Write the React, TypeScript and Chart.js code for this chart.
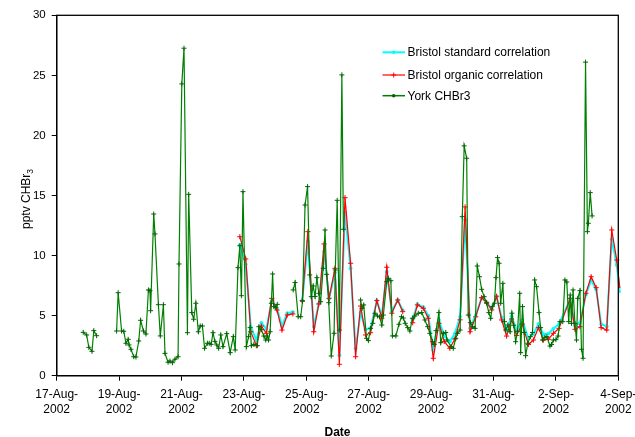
import React, { useEffect, useRef } from "react";
import { Chart, registerables } from "chart.js";

Chart.register(...registerables);

const FONT = '"Liberation Sans", Arial, Helvetica, sans-serif';

const DATE_TICKS = [
  "17-Aug-2002", "19-Aug-2002", "21-Aug-2002", "23-Aug-2002", "25-Aug-2002",
  "27-Aug-2002", "29-Aug-2002", "31-Aug-2002", "2-Sep-2002", "4-Sep-2002",
];
const X_AXIS_TITLE = "Date";
const Y_AXIS_TITLE = "pptv CHBr";
const Y_AXIS_SUB = "3";
const SERIES_NAMES = ["Bristol standard correlation", "Bristol organic correlation", "York CHBr3"];

// days after 17-Aug-2002 00:00
const YORK_DAYS = [
  0.85, 0.96, 1.03, 1.13, 1.19, 1.28, 1.60, 1.92, 1.97, 2.08,
  2.15, 2.22, 2.29, 2.32, 2.38, 2.47, 2.54, 2.63, 2.69, 2.78,
  2.86, 2.94, 2.99, 3.01, 3.11, 3.15, 3.26, 3.32, 3.42, 3.47,
  3.57, 3.63, 3.71, 3.79, 3.89, 3.92, 4.01, 4.08, 4.19, 4.23,
  4.33, 4.39, 4.46, 4.54, 4.60, 4.67, 4.74, 4.83, 4.89, 4.95,
  5.01, 5.07, 5.13, 5.19, 5.26, 5.33, 5.45, 5.56, 5.66, 5.72,
  5.81, 5.87, 5.92, 5.97, 6.08, 6.15, 6.20, 6.24, 6.32, 6.43,
  6.48, 6.56, 6.64, 6.70, 6.75, 6.79, 6.84, 6.88, 6.92, 6.96,
  7.02, 7.07, 7.30, 7.58, 7.64, 7.74, 7.82, 7.88, 7.96, 8.04,
  8.11, 8.16, 8.22, 8.28, 8.34, 8.40, 8.46, 8.54, 8.60, 8.65,
  8.72, 8.80, 8.89, 8.93, 8.99, 9.06, 9.14, 9.19, 9.45, 9.74,
  9.79, 9.84, 9.93, 9.99, 10.06, 10.13, 10.20, 10.28, 10.35, 10.42,
  10.47, 10.58, 10.63, 10.71, 10.76, 10.87, 10.97, 11.05, 11.11, 11.17,
  11.25, 11.32, 11.40, 11.48, 11.59, 11.70, 11.80, 11.89, 11.96, 12.05,
  12.10, 12.16, 12.25, 12.31, 12.39, 12.47, 12.51, 12.64, 12.71, 12.79,
  12.85, 12.93, 13.00, 13.06, 13.14, 13.19, 13.26, 13.33, 13.41, 13.48,
  13.55, 13.62, 13.70, 13.78, 13.85, 13.91, 13.96, 14.03, 14.08, 14.13,
  14.18, 14.23, 14.30, 14.35, 14.39, 14.46, 14.53, 14.59, 14.65, 14.71,
  14.77, 14.84, 14.87, 14.93, 14.98, 15.03, 15.10, 15.18, 15.25, 15.32,
  15.38, 15.46, 15.51, 15.57, 15.65, 15.71, 15.81, 15.86, 15.92, 16.00,
  16.07, 16.13, 16.22, 16.29, 16.35, 16.41, 16.46, 16.50, 16.55, 16.61,
  16.66, 16.70, 16.77, 16.82, 16.87, 16.95, 17.01, 17.04, 17.10, 17.16,
];

const YORK_CHBR3 = [
  3.61, 3.39, 2.36, 2.03, 3.75, 3.33, null, 3.72, 6.91, 3.72,
  3.70, 2.70, 3.03, 2.56, 2.20, 1.58, 1.56, 2.89, 4.61, 3.72,
  3.47, 7.14, 7.08, 5.41, 13.46, 11.80, 5.91, 3.31, 5.91, 1.86,
  1.12, 1.22, 1.08, 1.37, 1.58, 9.30, 24.29, 27.26, 3.58, 15.10,
  5.25, 4.70, 6.03, 3.66, 4.14, 4.14, 2.28, 2.70, 2.70, 2.61,
  3.58, 2.86, 2.56, 2.28, 3.39, 2.42, 3.50, 1.92, 3.25, 2.14,
  8.99, 10.82, 6.66, 15.32, 2.42, 3.25, 4.00, 2.50, 2.61, 2.50,
  4.08, 3.83, 3.30, 2.97, 3.30, 2.97, 3.66, 6.03, 8.47, 5.75,
  5.66, 5.94, null, 7.14, 7.75, 4.91, 4.91, 6.20, 14.21, 15.74,
  8.39, 6.58, 7.47, 6.60, 8.16, 6.86, 6.16, 8.94, 12.13, 8.44,
  6.08, 1.64, 3.53, 8.80, 14.60, 3.80, 25.04, 12.19, null, 6.30,
  5.61, 5.89, 3.11, 2.92, 3.94, 4.36, 5.20, 4.97, 4.90, 4.22,
  5.05, 7.83, 8.11, 7.91, 3.31, 3.31, 4.28, 4.91, 4.80, 4.36,
  4.00, 3.72, 4.78, 4.97, 5.20, 5.25, 4.64, 4.08, 3.53, 2.83,
  2.60, 3.75, 5.25, 2.75, 3.53, 3.60, 2.97, 2.42, 2.28, 3.11,
  3.53, 3.80, 13.24, 19.13, 18.10, 5.05, 4.41, 4.08, 3.94, 9.13,
  8.24, 7.19, 6.58, 6.03, 5.25, 4.78, 5.75, 6.03, 8.16, 9.83,
  9.36, 6.03, 7.69, 4.50, 3.80, 4.22, 3.66, 5.20, 4.20, 2.83,
  3.70, 6.86, 1.92, 5.75, 3.60, 1.67, 2.70, 3.25, 3.60, 7.97,
  7.41, 5.25, 4.00, 2.97, 3.20, 3.25, 2.47, 2.60, 2.97, 3.00,
  3.30, 4.50, 4.50, 7.97, 7.80, 4.50, 6.72, 4.36, 7.14, 4.36,
  2.97, 6.44, 7.08, 2.20, 1.45, 26.10, 11.99, 12.69, 15.24, 13.30,
];

const BRISTOL_DAYS = [
  5.87, 6.06, 6.22, 6.40, 6.56, 6.72, 6.89, 7.06, 7.22, 7.39,
  7.57, 7.72, 7.87, 8.05, 8.24, 8.40, 8.57, 8.73, 8.92, 9.06,
  9.24, 9.42, 9.58, 9.74, 9.90, 10.06, 10.26, 10.42, 10.58, 10.74,
  10.93, 11.09, 11.25, 11.41, 11.56, 11.75, 11.91, 12.07, 12.25, 12.42,
  12.60, 12.76, 12.93, 13.09, 13.25, 13.43, 13.62, 13.78, 13.94, 14.10,
  14.26, 14.42, 14.58, 14.74, 14.92, 15.12, 15.28, 15.44, 15.60, 15.76,
  15.92, 16.10, 16.46, 16.61, 16.77, 16.96, 17.13, 17.29, 17.45, 17.63,
  17.79, 17.95, 18.05,
];

const BRISTOL_ORGANIC = [
  11.57, 9.72, 3.66, 2.50, 4.14, 3.53, 6.44, 5.47, 3.80, 5.05,
  5.14, null, 6.25, 11.99, 3.66, 5.97, 10.97, 6.44, 8.94, 0.95,
  14.82, 9.36, 1.58, 5.80, 3.39, 3.58, 6.25, 4.78, 9.03, 5.20,
  6.30, 5.33, null, 4.41, 5.89, 5.61, 4.78, 1.45, 4.36, 2.85,
  2.28, 3.05, 4.65, 14.05, 3.66, 4.90, 6.50, 6.10, 5.47, 6.62,
  4.64, 3.30, 4.72, 3.35, 4.30, 2.60, 2.97, 4.00, 2.97, 3.03,
  3.53, 3.94, 6.44, 3.86, 4.08, 6.86, 8.24, 7.33, 4.00, 3.80,
  12.13, 9.63, 7.30,
];

const BRISTOL_STANDARD = [
  10.88, 9.27, 4.08, 2.97, 4.40, 3.90, 6.20, 5.60, 4.15, 5.20,
  5.30, null, 6.25, 11.16, 4.08, 6.00, 10.33, 6.40, 8.60, 1.70,
  13.60, 8.94, 2.28, 5.25, 3.86, 3.95, 6.25, 5.00, 8.66, 5.35,
  6.30, 5.45, null, 4.70, 5.95, 5.70, 5.00, 2.14, 4.65, 3.30,
  2.85, 3.50, 4.90, 12.96, 3.95, 5.05, 6.45, 6.10, 5.60, 6.55,
  4.85, 3.75, 4.95, 3.80, 4.60, 3.10, 3.45, 4.30, 3.45, 3.50,
  3.90, 4.30, 6.40, 4.15, 4.40, 6.75, 7.95, 7.20, 4.30, 4.10,
  11.36, 9.22, 6.90,
];

const toPoints = (xs: number[], ys: (number | null)[]) =>
  xs.map((x, i) => ({ x, y: ys[i] }));

const hideBeyondEnd = (base: number) => (ctx: any) => {
  const raw = ctx.raw as { x: number } | undefined;
  return raw && raw.x > 18 ? 0 : base;
};

const overlayPlugin = {
  id: "overlay",
  afterDraw(chart: any) {
    const { ctx, chartArea: a } = chart;
    ctx.save();
    // plot-area frame
    ctx.strokeStyle = "#000";
    ctx.lineWidth = 1.3;
    ctx.strokeRect(a.left, a.top, a.right - a.left, a.bottom - a.top);

    // legend inside the plot area
    const ds = chart.data.datasets;
    const rows = [
      { y: 52.3, color: ds[0].borderColor, lw: 2, marker: "dot", mcolor: "#00FFFF", label: ds[0].label },
      { y: 75, color: ds[1].borderColor, lw: 1.2, marker: "cross", mcolor: "#FF0000", label: ds[1].label },
      { y: 95.7, color: ds[2].borderColor, lw: 1.5, marker: "dot", mcolor: "#006400", label: ds[2].label },
    ];
    ctx.font = `12px ${FONT}`;
    ctx.textBaseline = "middle";
    ctx.textAlign = "left";
    for (const r of rows) {
      ctx.strokeStyle = r.color;
      ctx.lineWidth = r.lw;
      ctx.beginPath();
      ctx.moveTo(382.5, r.y);
      ctx.lineTo(405, r.y);
      ctx.stroke();
      if (r.marker === "dot") {
        ctx.fillStyle = r.mcolor;
        ctx.beginPath();
        ctx.arc(393.7, r.y, 1.8, 0, Math.PI * 2);
        ctx.fill();
      } else {
        ctx.strokeStyle = r.mcolor;
        ctx.lineWidth = 1;
        ctx.beginPath();
        ctx.moveTo(391.2, r.y);
        ctx.lineTo(396.2, r.y);
        ctx.moveTo(393.7, r.y - 2.5);
        ctx.lineTo(393.7, r.y + 2.5);
        ctx.stroke();
      }
      ctx.fillStyle = "#000";
      ctx.fillText(r.label, 407.5, r.y + 0.5);
    }

    // y axis title with subscript
    ctx.translate(30, 199);
    ctx.rotate(-Math.PI / 2);
    ctx.textBaseline = "alphabetic";
    ctx.font = `12px ${FONT}`;
    const w1 = ctx.measureText(Y_AXIS_TITLE).width;
    ctx.font = `8.5px ${FONT}`;
    const w2 = ctx.measureText(Y_AXIS_SUB).width;
    const start = -(w1 + w2) / 2;
    ctx.fillStyle = "#000";
    ctx.font = `12px ${FONT}`;
    ctx.fillText(Y_AXIS_TITLE, start, 0);
    ctx.font = `8.5px ${FONT}`;
    ctx.fillText(Y_AXIS_SUB, start + w1, 2.5);
    ctx.restore();
  },
};

export default function App() {
  const canvasRef = useRef<HTMLCanvasElement | null>(null);

  useEffect(() => {
    document.body.style.margin = "0";
    const canvas = canvasRef.current;
    if (!canvas) return;
    Chart.defaults.font.family = FONT;
    Chart.defaults.color = "#000";

    const chart = new Chart(canvas, {
      type: "line",
      data: {
        datasets: [
          {
            label: SERIES_NAMES[0],
            data: toPoints(BRISTOL_DAYS, BRISTOL_STANDARD),
            borderColor: "#00FFFF",
            backgroundColor: "#00FFFF",
            borderWidth: 2,
            pointStyle: "circle",
            pointRadius: hideBeyondEnd(1.9),
            pointBorderWidth: 0,
            pointBackgroundColor: "#00FFFF",
            tension: 0,
            spanGaps: false,
            clip: false,
            order: 3,
          },
          {
            label: SERIES_NAMES[1],
            data: toPoints(BRISTOL_DAYS, BRISTOL_ORGANIC),
            borderColor: "#FF0000",
            backgroundColor: "#FF0000",
            borderWidth: 1.2,
            pointStyle: "cross",
            pointRadius: hideBeyondEnd(2.6),
            pointBorderWidth: 1,
            pointBorderColor: "#FF0000",
            tension: 0,
            spanGaps: false,
            clip: false,
            order: 2,
          },
          {
            label: SERIES_NAMES[2],
            data: toPoints(YORK_DAYS, YORK_CHBR3),
            borderColor: "#008000",
            backgroundColor: "#008000",
            borderWidth: 1.2,
            pointStyle: "cross",
            pointRadius: 2.5,
            pointBorderWidth: 1,
            pointBorderColor: "#006400",
            tension: 0,
            spanGaps: false,
            clip: false,
            order: 1,
          },
        ],
      },
      options: {
        animation: false,
        responsive: true,
        maintainAspectRatio: false,
        layout: { padding: { top: 15.3, right: 16.7, left: 0, bottom: 0 } },
        plugins: {
          legend: { display: false },
          tooltip: { enabled: false },
        },
        events: [],
        scales: {
          x: {
            type: "linear",
            min: 0,
            max: 18,
            afterFit: (s: any) => {
              s.height = 61.3;
              s.paddingLeft = 0;
              s.paddingRight = 0;
            },
            ticks: {
              stepSize: 2,
              autoSkip: false,
              maxRotation: 0,
              padding: 6,
              color: "#000",
              font: { size: 12, lineHeight: 1.3 },
              callback: (v: any) => {
                const label = DATE_TICKS[Math.round(Number(v) / 2)];
                if (!label) return "";
                const k = label.lastIndexOf("-");
                return [label.slice(0, k + 1), label.slice(k + 1)];
              },
            },
            grid: {
              display: true,
              drawOnChartArea: false,
              drawTicks: true,
              tickLength: 5,
              color: "#000",
              lineWidth: 1,
            },
            border: { display: true, color: "#000", width: 1.3 },
            title: {
              display: true,
              text: X_AXIS_TITLE,
              color: "#000",
              padding: 0,
              font: { size: 12, weight: "bold", lineHeight: 0.8 },
            },
          },
          y: {
            type: "linear",
            min: 0,
            max: 30,
            afterFit: (s: any) => {
              s.width = 56.7;
              s.paddingTop = 0;
              s.paddingBottom = 0;
            },
            ticks: {
              stepSize: 5,
              padding: 6,
              color: "#000",
              font: { size: 11.5 },
            },
            grid: {
              display: true,
              drawOnChartArea: false,
              drawTicks: true,
              tickLength: 5,
              color: "#000",
              lineWidth: 1,
            },
            border: { display: true, color: "#000", width: 1.3 },
          },
        },
      },
      plugins: [overlayPlugin],
    });

    return () => {
      chart.destroy();
    };
  }, []);

  return (
    <div style={{ position: "relative", width: 635, height: 437 }}>
      <canvas ref={canvasRef} />
    </div>
  );
}
